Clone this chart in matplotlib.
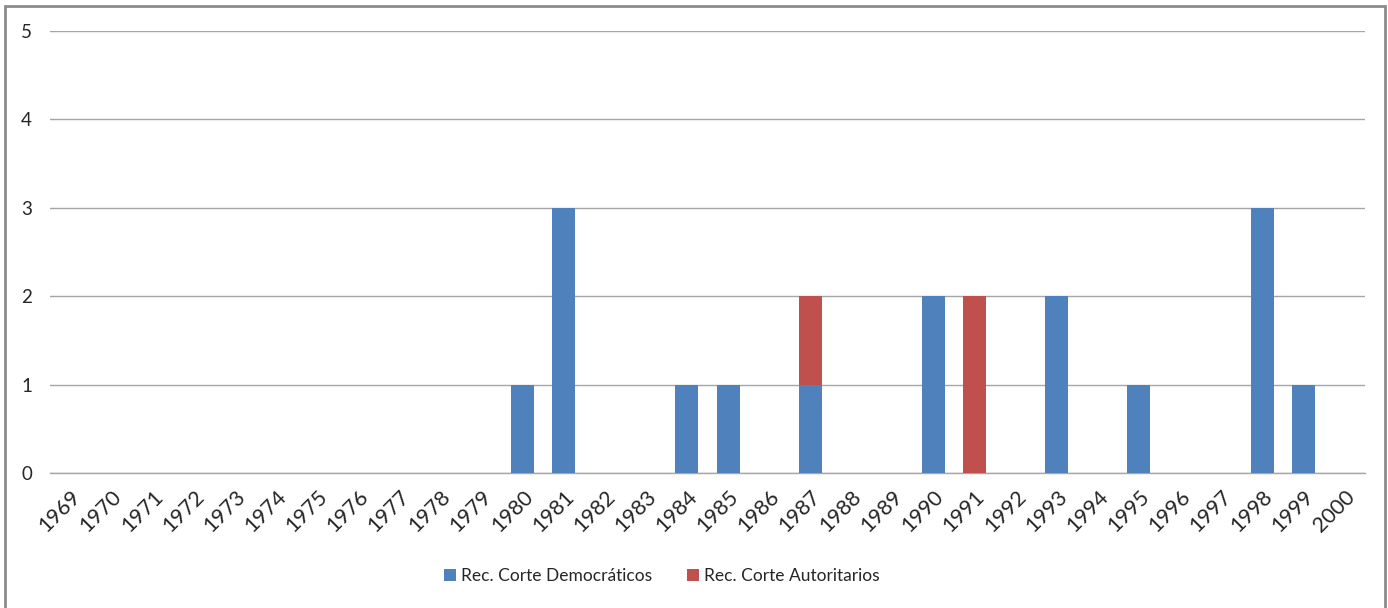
import numpy as np
import matplotlib
matplotlib.use("Agg")
import matplotlib.pyplot as plt
from matplotlib.patches import Rectangle

years = [str(y) for y in range(1969, 2001)]
democraticos = [0, 0, 0, 0, 0, 0, 0, 0, 0, 0, 0, 1, 3, 0, 0, 1, 1, 0, 1, 0, 0, 2, 0, 0, 2, 0, 1, 0, 0, 3, 1, 0]
autoritarios = [0, 0, 0, 0, 0, 0, 0, 0, 0, 0, 0, 0, 0, 0, 0, 0, 0, 0, 1, 0, 0, 0, 2, 0, 0, 0, 0, 0, 0, 0, 0, 0]

plt.rcParams['font.family'] = ['Lato', 'DejaVu Sans']

fig = plt.figure(figsize=(13.88, 6.08), dpi=100)
ax = fig.add_axes([50/1388, 1-473/608, 1315/1388, 442/608])

x = np.arange(len(years))
w = 0.56
ax.bar(x, democraticos, width=w, color='#4F81BD', label='Rec. Corte Democráticos', zorder=3)
ax.bar(x, autoritarios, width=w, bottom=democraticos, color='#C0504D', label='Rec. Corte Autoritarios', zorder=3)

ax.set_xlim(-0.5, len(years) - 0.5)
ax.set_ylim(0, 5)
ax.set_yticks(range(6))
ax.set_xticks(x)
ax.set_xticklabels(years, rotation=45, ha='right', rotation_mode='anchor')
ax.tick_params(axis='both', length=0, colors='#262626')
ax.tick_params(axis='y', pad=13, labelsize=13.5)
ax.tick_params(axis='x', pad=10, labelsize=15.5)
ax.grid(axis='y', color='#A6A6A6', linewidth=1, zorder=0)
ax.axhline(0, color='#A6A6A6', linewidth=1, zorder=1, clip_on=False)
for s in ax.spines.values():
    s.set_visible(False)

fig.legend(loc='center', bbox_to_anchor=(662/1388, 1-576/608), ncol=2, frameon=False,
           fontsize=12.5, handlelength=0.7, handleheight=0.7, handletextpad=0.3,
           columnspacing=2.0, labelcolor='#262626')

# grey frame around the chart
fig.patches.append(Rectangle((5/1388, -0.05), 1380/1388, 1.05 - 6/608,
                             transform=fig.transFigure, fill=False,
                             edgecolor='#8C8C8C', linewidth=2))

fig.savefig('out.png', dpi=100)
